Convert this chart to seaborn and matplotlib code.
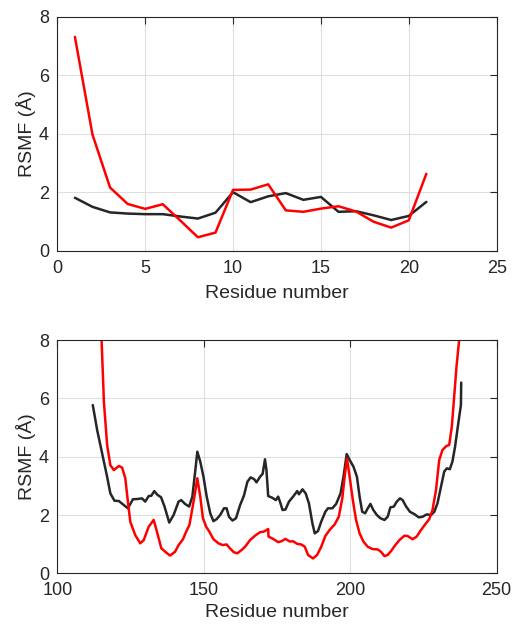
import numpy as np
import pandas as pd
import matplotlib
matplotlib.use("Agg")
import matplotlib.pyplot as plt
import seaborn as sns

# ---- top panel data ----
top_res = list(range(1, 22))
top_black = [1.81, 1.50, 1.31, 1.27, 1.25, 1.25, 1.17, 1.10, 1.30, 2.00, 1.66,
             1.86, 1.97, 1.74, 1.84, 1.33, 1.35, 1.21, 1.05, 1.19, 1.67]
top_red = [7.31, 3.97, 2.16, 1.60, 1.43, 1.59, 1.03, 0.46, 0.62, 2.08, 2.09,
           2.27, 1.38, 1.33, 1.44, 1.52, 1.34, 0.99, 0.79, 1.04, 2.63]

# ---- bottom panel data ----
bot_black_x = [112.1, 113.6, 115.3, 117.0, 118.1, 119.5, 121.0, 122.7, 124.1, 125.8,
               127.5, 128.9, 130.0, 131.2, 132.1, 133.1, 134.2, 135.4, 136.6, 138.2,
               139.7, 141.4, 142.3, 143.6, 145.0, 146.1, 147.0, 147.8, 148.8, 149.9,
               151.0, 152.2, 153.3, 154.4, 155.6, 156.9, 157.8, 158.6, 159.8, 161.0,
               162.4, 163.7, 164.9, 166.0, 167.2, 168.0, 169.2, 170.1, 170.9, 171.4,
               172.0, 173.4, 174.6, 175.4, 176.2, 176.9, 177.9, 179.1, 180.5, 181.9,
               182.5, 183.7, 184.8, 185.9, 187.1, 187.9, 189.0, 190.1, 191.5, 192.4,
               193.9, 195.2, 196.7, 197.7, 198.8, 199.8, 201.1, 202.3, 203.2, 204.1,
               205.1, 206.0, 206.9, 207.9, 209.1, 210.3, 211.7, 212.8, 213.7, 214.9,
               215.9, 217.0, 217.9, 219.1, 220.4, 221.9, 223.4, 224.7, 226.1, 227.6,
               228.7, 229.8, 231.0, 232.1, 233.0, 234.0, 234.9, 235.8, 236.9, 237.8,
               237.9]
bot_black_y = [5.77, 4.91, 4.11, 3.31, 2.74, 2.49, 2.48, 2.34, 2.23, 2.54,
               2.55, 2.57, 2.46, 2.65, 2.66, 2.82, 2.69, 2.61, 2.29, 1.74,
               2.00, 2.46, 2.51, 2.38, 2.29, 2.63, 3.43, 4.17, 3.83, 3.31,
               2.63, 2.06, 1.79, 1.86, 2.00, 2.23, 2.23, 1.94, 1.81, 1.89,
               2.34, 2.66, 3.14, 3.29, 3.23, 3.12, 3.31, 3.41, 3.91, 3.54,
               2.65, 2.59, 2.51, 2.63, 2.40, 2.17, 2.19, 2.46, 2.63, 2.82,
               2.71, 2.88, 2.74, 2.40, 1.71, 1.37, 1.45, 1.77, 2.11, 2.23,
               2.23, 2.38, 2.74, 3.31, 4.09, 3.89, 3.66, 3.31, 2.63, 2.11,
               2.06, 2.23, 2.38, 2.17, 2.00, 1.89, 1.83, 1.94, 2.26, 2.29,
               2.46, 2.57, 2.51, 2.29, 2.11, 2.03, 1.92, 1.94, 2.02, 2.00,
               2.11, 2.40, 2.97, 3.49, 3.60, 3.57, 3.83, 4.34, 5.14, 5.77,
               6.54]

bot_red_x = [112.0, 113.0, 114.0, 115.1, 115.9, 117.0, 118.1, 119.3, 121.0, 122.1,
             123.2, 124.1, 124.9, 126.6, 128.3, 129.5, 131.2, 132.9, 134.0, 135.5,
             137.2, 138.5, 140.2, 141.4, 142.9, 144.0, 145.1, 145.9, 146.8, 147.8,
             148.8, 149.7, 150.8, 151.9, 153.3, 155.0, 156.4, 157.8, 158.9, 160.3,
             161.5, 162.9, 164.1, 165.8, 167.5, 169.2, 170.5, 172.0, 172.1, 173.7,
             175.4, 176.5, 177.9, 179.4, 180.5, 181.9, 183.3, 184.5, 185.6, 187.3,
             188.7, 190.1, 191.5, 193.0, 194.7, 196.1, 197.3, 198.1, 198.9, 199.8,
             200.9, 202.0, 203.2, 204.5, 206.0, 207.7, 209.4, 210.5, 211.7, 212.8,
             214.0, 215.4, 216.8, 218.5, 219.6, 221.3, 222.7, 224.2, 225.6, 227.0,
             228.1, 229.3, 230.4, 231.5, 232.9, 233.8, 234.7, 235.5, 236.3, 237.2,
             238.0]
bot_red_y = [12.3, 10.6, 9.2, 8.0, 5.88, 4.40, 3.71, 3.54, 3.68, 3.63,
             3.26, 2.45, 1.77, 1.31, 1.03, 1.14, 1.60, 1.83, 1.43, 0.86,
             0.71, 0.61, 0.74, 0.97, 1.17, 1.43, 1.66, 2.11, 2.63, 3.26,
             2.63, 1.89, 1.60, 1.43, 1.17, 1.03, 0.97, 0.99, 0.86, 0.72,
             0.69, 0.80, 0.91, 1.14, 1.29, 1.41, 1.43, 1.52, 1.26, 1.18,
             1.07, 1.10, 1.18, 1.09, 1.10, 1.01, 0.99, 0.91, 0.63, 0.51,
             0.63, 0.91, 1.28, 1.49, 1.68, 1.94, 2.57, 3.31, 3.94, 3.31,
             2.51, 1.83, 1.37, 1.09, 0.91, 0.83, 0.82, 0.74, 0.59, 0.63,
             0.77, 0.97, 1.14, 1.29, 1.28, 1.17, 1.26, 1.49, 1.68, 1.86,
             2.17, 2.86, 3.89, 4.23, 4.37, 4.40, 5.03, 6.06, 7.09, 8.00,
             9.0]

xlabel = "Residue number"
ylabel = "RSMF (Å)"

sns.set_style("white")
plt.rcParams["font.family"] = ["Liberation Sans", "DejaVu Sans"]

BLACK = "#262626"
RED = "#ff0000"
GRID = "#dfdfdf"

fig = plt.figure(figsize=(5.12, 6.24), dpi=100)
ax1 = fig.add_axes([0.112, 0.5982, 0.858, 0.375])
ax2 = fig.add_axes([0.112, 0.0812, 0.858, 0.3739])

df_top = pd.DataFrame({"res": top_res, "black": top_black, "red": top_red})
sns.lineplot(data=df_top, x="res", y="black", color=BLACK, lw=1.8, ax=ax1, sort=False)
sns.lineplot(data=df_top, x="res", y="red", color=RED, lw=1.8, ax=ax1, sort=False)

df_b = pd.DataFrame({"x": bot_black_x, "y": bot_black_y})
df_r = pd.DataFrame({"x": bot_red_x, "y": bot_red_y})
sns.lineplot(data=df_b, x="x", y="y", color=BLACK, lw=1.8, ax=ax2, sort=False)
sns.lineplot(data=df_r, x="x", y="y", color=RED, lw=1.8, ax=ax2, sort=False)

ax1.set_xlim(0, 25)
ax1.set_xticks([0, 5, 10, 15, 20, 25])
ax2.set_xlim(100, 250)
ax2.set_xticks([100, 150, 200, 250])

for ax in (ax1, ax2):
    ax.set_ylim(0, 8)
    ax.set_yticks([0, 2, 4, 6, 8])
    ax.grid(True, color=GRID, lw=0.8)
    ax.set_axisbelow(True)
    for s in ax.spines.values():
        s.set_visible(True)
        s.set_color(BLACK)
        s.set_linewidth(0.8)
    ax.tick_params(direction="in", length=5, width=0.8, color=BLACK,
                   top=True, right=True, labelsize=13, labelcolor=BLACK)
    ax.tick_params(axis="x", pad=6.5)
    ax.tick_params(axis="y", pad=6)
    ax.set_ylabel(ylabel, fontsize=14, color=BLACK, labelpad=2)

ax1.set_xlabel(xlabel, fontsize=14, color=BLACK, labelpad=6)
ax2.set_xlabel(xlabel, fontsize=14, color=BLACK, labelpad=3)

fig.savefig("out.png", dpi=100)
